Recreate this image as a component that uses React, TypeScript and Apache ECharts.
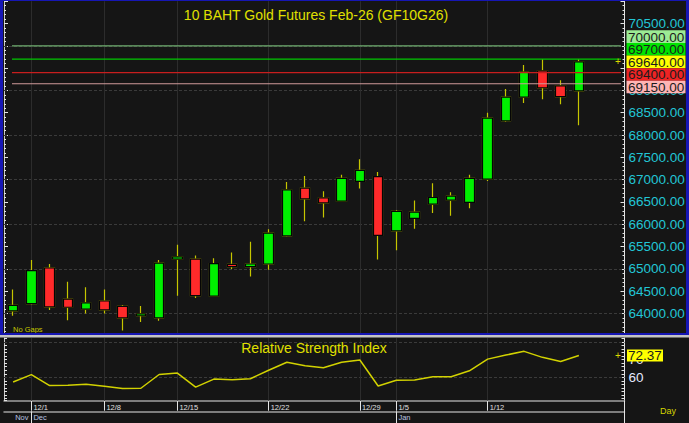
import React, { useEffect, useRef } from 'react';
import * as echarts from 'echarts';

// ---------- data ----------
const dates = [
  '11/28', '12/1', '12/2', '12/3', '12/4', '12/8', '12/9', '12/11', '12/12',
  '12/15', '12/16', '12/17', '12/18', '12/19', '12/22', '12/23', '12/24', '12/25',
  '12/26', '12/29', '12/30', '1/5', '1/6', '1/7', '1/8', '1/9', '1/12', '1/13',
  '1/14', '1/15', '1/16', '1/19', '1/20', '1/21',
];
const opens = [
  64060, 64220, 65020, 64320, 64100, 64280, 64160, 63950, 63900, 65220, 65220,
  64390, 65100, 65050, 65110, 65740, 66810, 66590, 66520, 66960, 67070, 65850,
  66130, 66450, 66540, 66490, 67010, 68320, 68850, 69440, 69100, 68990,
];
const closes = [
  64180, 64960, 64150, 64140, 64240, 64080, 63900, 63990, 65130, 65270, 64400,
  65120, 65050, 65110, 65800, 66770, 66570, 66480, 67030, 67210, 65750, 66290,
  66270, 66600, 66630, 67030, 68380, 68850, 69410, 69060, 68860, 69640,
];
const lows = [
  63950, 64200, 64080, 63850, 64000, 64000, 63620, 63810, 63840, 64400, 64350,
  64380, 65000, 64830, 64980, 65720, 66070, 66150, 66510, 66800, 65210, 65420,
  65900, 66250, 66190, 66360, 66970, 68300, 68720, 68800, 68690, 68220,
];
const highs = [
  64540, 65200, 65110, 64710, 64590, 64540, 64190, 64170, 65200, 65540, 65300,
  65240, 65370, 65610, 65890, 66950, 67080, 66740, 67110, 67460, 67170, 66320,
  66530, 66920, 66720, 67110, 68500, 69030, 69570, 69700, 69230, 69700,
];
const rsi = [
  57.3, 61.5, 55.3, 55.5, 56.1, 54.9, 53.6, 53.8, 61.6, 62.4, 54.4, 59.0, 58.6,
  59.2, 64.0, 68.5, 66.6, 65.4, 68.5, 69.8, 55.1, 58.3, 58.5, 60.3, 60.3, 63.7,
  70.3, 72.6, 74.7, 71.3, 69.0, 72.37,
];
const weekStarts = ['12/1', '12/8', '12/15', '12/22', '12/29', '1/5', '1/12'];
const monthStarts: Record<string, string> = { '11/28': 'Nov', '12/1': 'Dec', '1/5': 'Jan' };
const monthTicks = ['12/1', '1/5'];
const priceGridLevels = [64000, 65000, 66000, 67000, 68000, 69000, 70000];
const hiddenPriceLabels = [70000, 69500];
const rsiGridLevels = [60, 80];
const rsiLabels = [60, 70];
const levelValues = [70000, 69700, 69640, 69400, 69150];
const lastPrice = 69640;
const lastRsi = 72.37;
const titleText = '10 BAHT Gold Futures Feb-26 (GF10G26)';
const rsiTitle = 'Relative Strength Index';

// ---------- styles ----------
const FONT = '"Liberation Sans", Arial, sans-serif';
const levelLineColors = ['#6fae6f', '#00c800', null, '#c81e1e', '#d09a9a'];
const levelBoxColors = ['#9ceb94', '#00e400', '#ffff00', '#ee2424', '#ffb4b4'];

export default function App() {
  const ref = useRef<HTMLDivElement>(null);

  useEffect(() => {
    document.body.style.margin = '0';
    const el = ref.current!;
    const chart = echarts.init(el, null, { renderer: 'svg' });

    const L = 4;
    const RE = 624.5;
    const W = RE - L;
    const k = 290 / 6500;
    const pMin = 63500, pMax = 71000;
    const pTop = 23.5 - (pMax - 70500) * k;
    const pH = (pMax - pMin) * k;
    const rTop = 338, rBottom = 400.7;
    const rk = 1.765;
    const rMin = 60 - (rBottom - 377.3) / rk;
    const rMax = 60 + (377.3 - rTop) / rk;

    const weekIdx = new Set(weekStarts.map((d) => dates.indexOf(d)));
    const monthLabelIdx = new Set(Object.keys(monthStarts).map((d) => dates.indexOf(d)));
    const monthTickIdx = new Set(monthTicks.map((d) => dates.indexOf(d)));

    const tickColor = '#e4e4e4';
    const vGrid = weekStarts.map((d) => ({
      xAxis: d,
      lineStyle: { color: '#2c2c2c', type: 'solid', width: 1 },
    }));

    const option: any = {
      animation: false,
      backgroundColor: '#151515',
      grid: [
        { left: L, top: pTop, width: W, height: pH },
        { left: L, top: rTop, width: W, height: rBottom - rTop },
      ],
      xAxis: [
        { type: 'category', gridIndex: 0, data: dates, show: false },
        {
          type: 'category', gridIndex: 1, data: dates, position: 'bottom',
          axisLine: { show: true, lineStyle: { color: '#a0a0a0', width: 1.5 } },
          axisTick: {
            show: true, alignWithLabel: true, length: 10,
            interval: (i: number) => weekIdx.has(i),
            lineStyle: { color: tickColor },
          },
          axisLabel: {
            interval: (i: number) => weekIdx.has(i),
            align: 'left', padding: [0, 0, 0, 2], margin: 3,
            color: '#e0e0e0', fontSize: 7.5, fontFamily: FONT,
          },
          splitLine: { show: false },
        },
        {
          type: 'category', gridIndex: 1, data: dates, position: 'bottom', offset: 10.6,
          axisLine: { show: true, lineStyle: { color: '#a0a0a0', width: 1.5 } },
          axisTick: {
            show: true, alignWithLabel: true, length: 12,
            interval: (i: number) => monthTickIdx.has(i),
            lineStyle: { color: tickColor },
          },
          axisLabel: {
            interval: (i: number) => monthLabelIdx.has(i),
            formatter: (v: string) => monthStarts[v] ?? '',
            align: 'left', padding: [0, 0, 0, 2], margin: 2,
            color: '#b8c4e0', fontSize: 7.5, fontFamily: FONT,
          },
          splitLine: { show: false },
        },
      ],
      yAxis: [
        {
          type: 'value', gridIndex: 0, position: 'right', min: pMin, max: pMax, interval: 500,
          axisLine: { show: true, lineStyle: { color: tickColor } },
          axisTick: { show: true, inside: true, length: 4, lineStyle: { color: tickColor } },
          minorTick: { show: true, splitNumber: 5, length: 2, lineStyle: { color: tickColor } },
          axisLabel: {
            color: '#22c6d6', fontSize: 13.5, fontFamily: FONT, margin: 4,
            showMinLabel: false, showMaxLabel: false,
            formatter: (v: number) => (hiddenPriceLabels.includes(v) ? '' : v.toFixed(2)),
          },
          splitLine: { show: false },
        },
        {
          type: 'value', gridIndex: 0, position: 'left', min: pMin, max: pMax, interval: 500,
          axisLine: { show: true, lineStyle: { color: '#c8c8c8' } },
          axisTick: { show: true, inside: true, length: 4, lineStyle: { color: tickColor } },
          minorTick: { show: true, splitNumber: 5, length: 2, lineStyle: { color: tickColor } },
          axisLabel: { show: false },
          splitLine: { show: false },
        },
        {
          type: 'value', gridIndex: 1, position: 'right', min: rMin, max: rMax,
          minInterval: 2, maxInterval: 2,
          axisLine: { show: true, lineStyle: { color: tickColor } },
          axisTick: { show: true, inside: true, length: 3, lineStyle: { color: tickColor } },
          axisLabel: {
            color: '#e4eaff', fontSize: 13.5, fontFamily: FONT, margin: 4,
            showMinLabel: false, showMaxLabel: false,
            formatter: (v: number) => (rsiLabels.some((l) => Math.abs(l - v) < 0.01) ? String(Math.round(v)) : ''),
          },
          splitLine: { show: false },
        },
        {
          type: 'value', gridIndex: 1, position: 'left', min: rMin, max: rMax,
          minInterval: 2, maxInterval: 2,
          axisLine: { show: true, lineStyle: { color: '#c8c8c8' } },
          axisTick: { show: true, inside: true, length: 3, lineStyle: { color: tickColor } },
          axisLabel: { show: false },
          splitLine: { show: false },
        },
      ],
      series: [
        {
          type: 'candlestick', name: 'wicks', xAxisIndex: 0, yAxisIndex: 0,
          data: opens.map((o, i) => [o, closes[i], lows[i], highs[i]]),
          barWidth: 10,
          itemStyle: {
            color: 'transparent', color0: 'transparent',
            borderColor: '#c6c600', borderColor0: '#c6c600', borderWidth: 1.2,
          },
          silent: true,
          markLine: {
            z: 1, silent: true, symbol: 'none', label: { show: false },
            emphasis: { disabled: true },
            data: [
              ...priceGridLevels.map((v) => ({
                yAxis: v, lineStyle: { color: '#3a3a3a', type: [3, 2], width: 1 },
              })),
              ...vGrid,
            ],
          },
        },
        {
          type: 'candlestick', name: 'bodies', xAxisIndex: 0, yAxisIndex: 0,
          data: opens.map((o, i) => [o, closes[i], Math.min(o, closes[i]), Math.max(o, closes[i])]),
          barWidth: 10,
          itemStyle: {
            color: '#00f000', color0: '#ff2a2a',
            borderColor: '#050505', borderColor0: '#050505', borderWidth: 1.2,
          },
          silent: true,
        },
        {
          type: 'line', name: 'RSI', xAxisIndex: 1, yAxisIndex: 2,
          data: rsi, symbol: 'none', silent: true,
          lineStyle: { color: '#d2d200', width: 1.5 },
          markLine: {
            z: 1, silent: true, symbol: 'none', label: { show: false },
            emphasis: { disabled: true },
            data: [
              ...rsiGridLevels.map((v) => ({
                yAxis: v, lineStyle: { color: '#3a3a3a', type: [3, 2], width: 1 },
              })),
              ...vGrid,
            ],
          },
        },
      ],
    };
    chart.setOption(option);

    const yP = (v: number) => chart.convertToPixel({ yAxisIndex: 0 }, v) as number;
    const yR = (v: number) => chart.convertToPixel({ yAxisIndex: 2 }, v) as number;

    // stacked level labels
    const ys = levelValues.map(yP);
    const anchor = levelValues.indexOf(lastPrice);
    const h = 12.6;
    const pos = ys.slice();
    for (let i = anchor - 1; i >= 0; i--) pos[i] = Math.min(ys[i], pos[i + 1] - h);
    for (let i = anchor + 1; i < pos.length; i++) pos[i] = Math.max(ys[i], pos[i - 1] + h);

    const els: any[] = [];
    levelValues.forEach((v, i) => {
      const c = levelLineColors[i];
      if (c) {
        els.push({
          type: 'line', z: 50, silent: true,
          shape: { x1: 12, y1: ys[i], x2: 621, y2: ys[i] },
          style: { stroke: c, lineWidth: 1.2 },
        });
      }
    });
    levelValues.forEach((v, i) => {
      els.push({
        type: 'rect', z: 60, silent: true,
        shape: { x: 626.5, y: pos[i] - h / 2, width: 59, height: h },
        style: { fill: levelBoxColors[i] },
      });
      els.push({
        type: 'text', z: 61, silent: true, x: 628, y: pos[i] + 0.5,
        style: {
          text: v.toFixed(2), fill: '#1c1c1c', fontSize: 13.5, fontFamily: FONT,
          verticalAlign: 'middle', align: 'left',
        },
      });
    });
    // last price marker
    els.push({
      type: 'text', z: 61, silent: true, x: 618, y: yP(lastPrice),
      style: { text: '+', fill: '#d8d800', fontSize: 10, fontFamily: FONT, align: 'center', verticalAlign: 'middle' },
    });
    // RSI value box
    const ry = yR(lastRsi);
    els.push({
      type: 'rect', z: 60, silent: true,
      shape: { x: 627, y: ry - 6, width: 36, height: 12 },
      style: { fill: '#ffff00' },
    });
    els.push({
      type: 'text', z: 61, silent: true, x: 628, y: ry + 0.5,
      style: { text: lastRsi.toFixed(2), fill: '#1c1c1c', fontSize: 13.5, fontFamily: FONT, verticalAlign: 'middle' },
    });
    els.push({
      type: 'text', z: 61, silent: true, x: 618, y: ry,
      style: { text: '+', fill: '#d8d800', fontSize: 10, fontFamily: FONT, align: 'center', verticalAlign: 'middle' },
    });
    // titles & notes
    els.push({
      type: 'text', z: 61, silent: true, x: 316, y: 15,
      style: { text: titleText, fill: '#e0e000', fontSize: 14, fontFamily: FONT, align: 'center', verticalAlign: 'middle' },
    });
    els.push({
      type: 'text', z: 61, silent: true, x: 314, y: 348,
      style: { text: rsiTitle, fill: '#e0e000', fontSize: 14, fontFamily: FONT, align: 'center', verticalAlign: 'middle' },
    });
    els.push({
      type: 'text', z: 61, silent: true, x: 13, y: 329.5,
      style: { text: 'No Gaps', fill: '#c8c800', fontSize: 7.5, fontFamily: FONT, verticalAlign: 'middle' },
    });
    els.push({
      type: 'text', z: 61, silent: true, x: 668, y: 411,
      style: { text: 'Day', fill: '#d4d400', fontSize: 9, fontFamily: FONT, align: 'center', verticalAlign: 'middle' },
    });
    // frame
    const blue = '#1616b4';
    els.push({ type: 'rect', z: 90, silent: true, shape: { x: 0, y: 0, width: 689, height: 1 }, style: { fill: blue } });
    els.push({ type: 'rect', z: 90, silent: true, shape: { x: 0, y: 0, width: 3, height: 335 }, style: { fill: blue } });
    els.push({ type: 'rect', z: 90, silent: true, shape: { x: 686, y: 0, width: 3, height: 335 }, style: { fill: blue } });
    els.push({ type: 'rect', z: 90, silent: true, shape: { x: 0, y: 333, width: 689, height: 2 }, style: { fill: blue } });
    els.push({ type: 'rect', z: 90, silent: true, shape: { x: 0, y: 335, width: 689, height: 2.6 }, style: { fill: '#c4c4c4' } });
    els.push({
      type: 'line', z: 90, silent: true,
      shape: { x1: RE, y1: rBottom, x2: RE, y2: 423 },
      style: { stroke: tickColor, lineWidth: 1 },
    });

    chart.setOption({ graphic: { elements: els } });

    return () => chart.dispose();
  }, []);

  return (
    <div
      ref={ref}
      style={{ position: 'fixed', left: 0, top: 0, width: 689, height: 423 }}
    />
  );
}
